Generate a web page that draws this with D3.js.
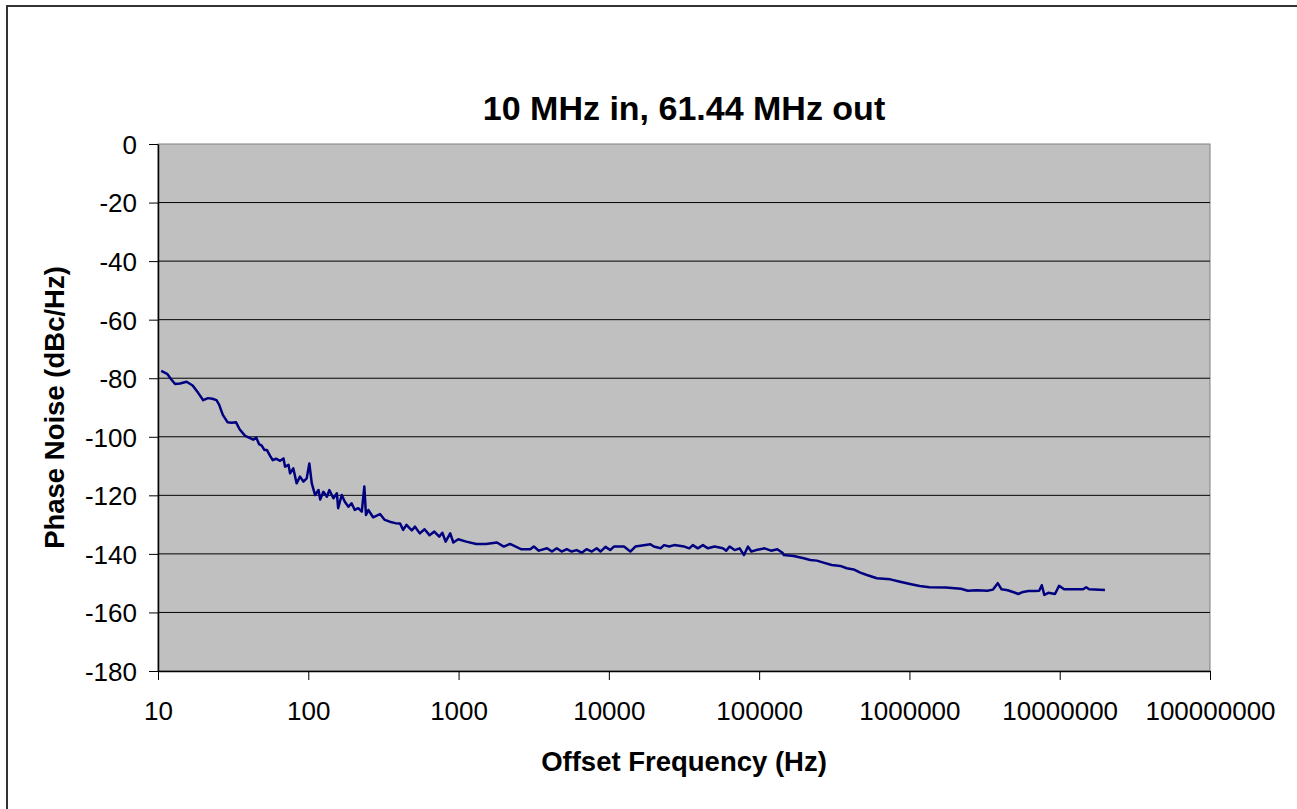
<!DOCTYPE html>
<html>
<head>
<meta charset="utf-8">
<script src="https://cdn.jsdelivr.net/npm/d3@7"></script>
<style>
  body { margin: 0; background: #fff; }
  svg { display: block; font-family: "Liberation Sans", Arial, sans-serif; }
</style>
</head>
<body>
<div id="chart"></div>
<script>
// chart texts
var chartTitle = "10 MHz in, 61.44 MHz out";
var xTitle = "Offset Frequency (Hz)";
var yTitle = "Phase Noise (dBc/Hz)";

// axis ticks
var xTicks = [10, 100, 1000, 10000, 100000, 1000000, 10000000, 100000000];
var yTicks = [0, -20, -40, -60, -80, -100, -120, -140, -160, -180];

// offset frequency (Hz)
var freq = [
  10.5, 11.5, 12.3, 13, 14, 15.5, 17, 18.5, 20, 21.5, 23, 24.5, 25.5, 27, 29, 31, 33, 35, 38, 41,
  43, 45, 47, 49, 51, 53, 55.7, 58, 61, 64.9, 68.4, 70.1, 73.9, 75.6, 79.5, 83.6, 88.1, 92.8, 97.6, 101.6,
  105.5, 111, 117, 120, 126, 133, 138, 147, 155, 158, 167, 175, 185, 194, 204, 215, 227, 236, 242, 251,
  270, 300, 323, 348, 380, 408, 428, 450, 488, 513, 552, 594, 640, 690, 743, 780, 820, 880, 923, 995,
  1125, 1310, 1520, 1800, 2000, 2200, 2600, 3000, 3170, 3420, 3880, 4180, 4500, 4850, 5250, 5650, 6100, 6600, 7100, 7700,
  8300, 8800, 9500, 10200, 10800, 12600, 13900, 15000, 18900, 19900, 22100, 23300, 25200, 27200, 31800, 34300, 36200, 39100, 42200, 45700,
  50500, 57400, 60400, 63600, 68700, 74200, 79300, 84300, 88700, 95700, 108600, 120000, 132000, 143000, 146000, 170000, 198000, 219000, 242000, 268000,
  304000, 346000, 383000, 425000, 471000, 521000, 607000, 746000, 867000, 1010000, 1170000, 1360000, 1750000, 2000000, 2200000, 2450000, 2800000, 3300000, 3600000, 3870000,
  4100000, 4500000, 5000000, 5300000, 5700000, 6200000, 6800000, 7300000, 7600000, 7900000, 8400000, 9300000, 9900000, 10700000, 14300000, 15000000, 15700000, 20000000
];

// phase noise (dBc/Hz)
var noise = [
  -77.5, -78.5, -80.5, -82, -81.8, -81.2, -82.5, -85, -87.5, -86.8, -87, -87.5, -89, -92.5, -95, -95.2, -95, -97.5, -99.7, -100.5,
  -101, -100.2, -102.5, -103, -104.5, -104.5, -106.5, -108, -107.5, -108.2, -107.4, -110.2, -109.6, -112.5, -110.8, -115.9, -113.6, -115.3, -114.2, -109.1,
  -115.9, -119.9, -118.2, -121.4, -118.8, -120.5, -118.2, -121, -119.3, -124.4, -119.9, -122.2, -123.9, -122.7, -125, -124.4, -125.6, -117, -126.7, -125,
  -127.5, -126.4, -128.4, -129, -129.5, -129.6, -131.8, -130.1, -132, -130.7, -133, -131.6, -133.6, -132.4, -134.1, -132.8, -135.8, -133, -136.1, -135,
  -135.8, -136.6, -136.6, -136.1, -137.5, -136.6, -138.4, -138.4, -137.5, -138.9, -138.1, -139.2, -138.1, -139.2, -138.4, -139.2, -138.7, -139.6, -138.4, -139.2,
  -138.1, -139.2, -137.6, -138.7, -137.5, -137.5, -139.2, -137.5, -136.7, -137.5, -138.1, -137, -137.5, -137, -137.5, -138.1, -137, -138.1, -137, -138.1,
  -137.5, -138.1, -138.9, -137.5, -138.7, -138.1, -140.4, -137.5, -139.2, -138.7, -138.1, -138.9, -138.4, -139.6, -140.4, -140.7, -141.5, -142.1, -142.3, -143,
  -143.8, -144.1, -144.9, -145.3, -146.4, -147.2, -148.3, -148.7, -149.5, -150.3, -151, -151.4, -151.5, -151.7, -151.9, -152.6, -152.4, -152.6, -152.2, -150,
  -152.1, -152.4, -153.2, -153.7, -153, -152.7, -152.7, -152.6, -150.7, -154, -153.3, -153.7, -150.9, -152.1, -152.1, -151.4, -152.1, -152.3
];

var W = 1297, H = 809;
var margin = { top: 144, right: 87, bottom: 138, left: 158 };
var width = W - margin.left - margin.right,
  height = H - margin.top - margin.bottom;

var svg = d3.select("#chart").append("svg")
  .attr("width", W)
  .attr("height", H);

// outer chart frame (runs off the right and bottom edges)
svg.append("rect")
  .attr("x", 7).attr("y", 6)
  .attr("width", W + 20).attr("height", H + 20)
  .attr("fill", "#fff")
  .attr("stroke", "#333").attr("stroke-width", 2);

var g = svg.append("g")
  .attr("transform", "translate(" + margin.left + "," + margin.top + ")");

var x = d3.scaleLog().domain([10, 1e8]).range([0, width]);
var y = d3.scaleLinear().domain([-180, 0]).range([height, 0]);

// plot area
g.append("rect")
  .attr("width", width).attr("height", height)
  .attr("fill", "#c0c0c0")
  .attr("stroke", "#808080").attr("stroke-width", 1);

// horizontal gridlines
g.append("g")
  .selectAll("line")
  .data(yTicks.filter(d => d > -180 && d < 0))
  .enter().append("line")
  .attr("x1", 0).attr("x2", width)
  .attr("y1", d => y(d)).attr("y2", d => y(d))
  .attr("stroke", "#000").attr("stroke-width", 1);

// axes
var xAxis = d3.axisBottom(x).tickValues(xTicks).tickFormat(d => String(d))
  .tickSize(9).tickSizeOuter(0).tickPadding(10);
var yAxis = d3.axisLeft(y).tickValues(yTicks).tickFormat(d => String(d))
  .tickSize(9).tickSizeOuter(0).tickPadding(12);

var gx = g.append("g")
  .attr("transform", "translate(0," + height + ")")
  .call(xAxis);
var gy = g.append("g").call(yAxis);

[gx, gy].forEach(function(a) {
  a.selectAll("path").attr("stroke", "#000").attr("stroke-width", 1.5);
  a.selectAll("line").attr("stroke", "#000").attr("stroke-width", 1);
  a.selectAll("text")
    .attr("font-family", "'Liberation Sans', Arial, sans-serif")
    .attr("font-size", 26)
    .attr("fill", "#000");
});
gx.selectAll("text").attr("y", 0).attr("dy", 0)
  .attr("transform", "translate(0,49)");
gy.selectAll("text").attr("dy", "0.36em");

// phase noise trace
var pts = freq.map((f, i) => [f, noise[i]]);
var line = d3.line()
  .x(d => x(d[0]))
  .y(d => y(d[1]));

g.append("path")
  .datum(pts)
  .attr("d", line)
  .attr("fill", "none")
  .attr("stroke", "#000080")
  .attr("stroke-width", 2.5)
  .attr("stroke-linejoin", "round");

// titles
svg.append("text")
  .attr("x", margin.left + width / 2).attr("y", 120)
  .attr("text-anchor", "middle")
  .attr("font-size", 34).attr("font-weight", "bold")
  .text(chartTitle);

svg.append("text")
  .attr("x", margin.left + width / 2).attr("y", 771)
  .attr("text-anchor", "middle")
  .attr("font-size", 27.5).attr("font-weight", "bold")
  .text(xTitle);

svg.append("text")
  .attr("transform", "translate(64," + (margin.top + height / 2) + ") rotate(-90)")
  .attr("text-anchor", "middle")
  .attr("font-size", 27.5).attr("font-weight", "bold")
  .text(yTitle);
</script>
</body>
</html>
